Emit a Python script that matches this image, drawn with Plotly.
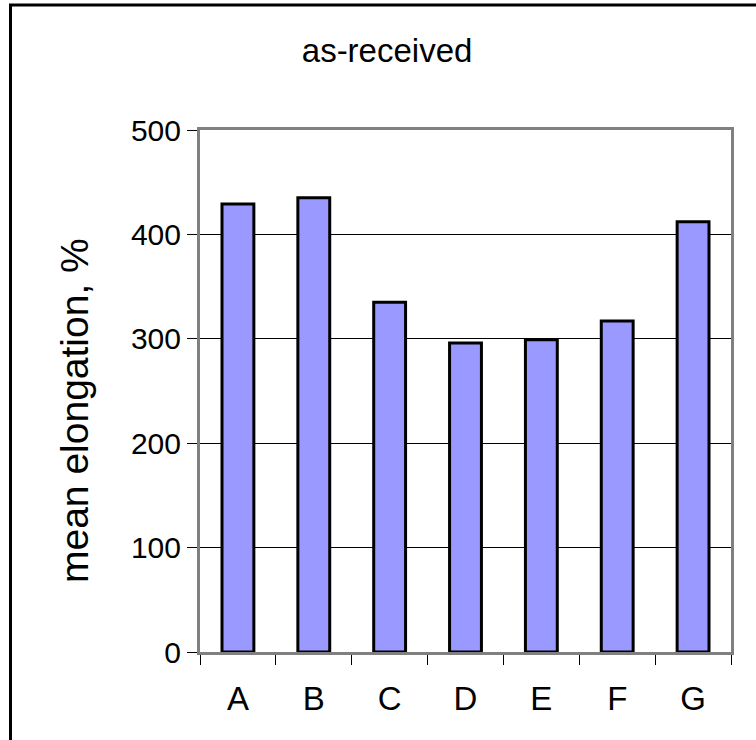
import plotly.graph_objects as go

# Mean elongation per sample, as-received condition
categories = ["A", "B", "C", "D", "E", "F", "G"]
mean_elongation = [429, 435, 335, 296, 299, 317, 412]
y_ticks = [0, 100, 200, 300, 400, 500]

FONT = "Arial, Liberation Sans, sans-serif"
W, H = 756, 740
L, R, T, B = 200, 25, 130, 88
pw, ph = W - L - R, H - T - B

fig = go.Figure(
    go.Bar(
        x=categories,
        y=mean_elongation,
        width=0.42,
        marker=dict(color="#9999FF", line=dict(color="black", width=3)),
    )
)

fig.update_layout(
    width=W,
    height=H,
    margin=dict(l=L, r=R, t=T, b=B, pad=0),
    paper_bgcolor="white",
    plot_bgcolor="white",
    showlegend=False,
    font=dict(family=FONT, color="black"),
    title=dict(
        text="as-received",
        font=dict(family=FONT, size=33, color="black"),
        x=0.512,
        xref="container",
        xanchor="center",
        y=1 - 50 / H,
        yref="container",
        yanchor="middle",
    ),
    xaxis=dict(
        type="category",
        tickson="boundaries",
        ticks="outside",
        ticklen=10,
        tickwidth=1,
        tickcolor="black",
        showline=True,
        linecolor="#808080",
        linewidth=3,
        mirror=True,
        showgrid=False,
        tickfont=dict(family=FONT, size=33, color="black"),
        ticklabelstandoff=15,
    ),
    yaxis=dict(
        range=[0, 500],
        tickvals=y_ticks,
        ticks="outside",
        ticklen=10,
        tickwidth=1,
        tickcolor="black",
        showline=True,
        linecolor="#808080",
        linewidth=3,
        mirror=True,
        showgrid=True,
        gridcolor="black",
        gridwidth=1,
        zeroline=False,
        tickfont=dict(family=FONT, size=30, color="black"),
        ticklabelstandoff=0,
    ),
    annotations=[
        dict(
            text="mean elongation, %",
            textangle=-90,
            xref="paper",
            yref="paper",
            x=(74 - L) / pw,
            y=(H - B - 411) / ph,
            xanchor="center",
            yanchor="middle",
            showarrow=False,
            font=dict(family=FONT, size=39, color="black"),
        )
    ],
    shapes=[
        # outer chart frame, running off the right and bottom edges
        dict(
            type="rect",
            xref="paper",
            yref="paper",
            x0=(10.5 - L) / pw,
            x1=(W + 30 - L) / pw,
            y0=(H - B - (H + 30)) / ph,
            y1=(H - B - 5) / ph,
            line=dict(color="black", width=3),
            fillcolor="rgba(0,0,0,0)",
            layer="below",
        )
    ],
)

fig.write_html("out.html")
